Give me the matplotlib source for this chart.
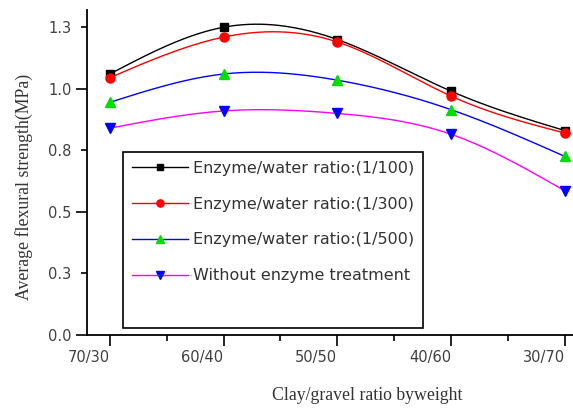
import numpy as np
import matplotlib
matplotlib.use('Agg')
import matplotlib.pyplot as plt
from matplotlib.lines import Line2D

categories = ['70/30', '60/40', '50/50', '40/60', '30/70']
ratio_1_100 = [1.06, 1.25, 1.20, 0.99, 0.83]
ratio_1_300 = [1.045, 1.21, 1.19, 0.97, 0.82]
ratio_1_500 = [0.945, 1.06, 1.035, 0.915, 0.725]
no_enzyme = [0.84, 0.91, 0.90, 0.815, 0.585]
series_labels = ['Enzyme/water ratio:(1/100)', 'Enzyme/water ratio:(1/300)',
                 'Enzyme/water ratio:(1/500)', 'Without enzyme treatment']
y_major = [0.0, 0.5, 1.0]
y_major_labels = ['0.0', '0.5', '1.0']
y_minor = [0.25, 0.75, 1.25]
y_minor_labels = ['0.3', '0.8', '1.3']

line_colors = ['black', 'red', 'blue', 'magenta']
marker_colors = ['black', 'red', '#00dd00', 'blue']
markers = ['s', 'o', '^', 'v']
msizes = [6, 6.5, 7, 7]


def natural_spline(x, y, n=300):
    x = np.asarray(x, float)
    y = np.asarray(y, float)
    k = len(x)
    h = np.diff(x)
    A = np.zeros((k, k))
    b = np.zeros(k)
    A[0, 0] = 1
    A[-1, -1] = 1
    for i in range(1, k - 1):
        A[i, i - 1] = h[i - 1]
        A[i, i] = 2 * (h[i - 1] + h[i])
        A[i, i + 1] = h[i]
        b[i] = 6 * ((y[i + 1] - y[i]) / h[i] - (y[i] - y[i - 1]) / h[i - 1])
    M = np.linalg.solve(A, b)
    xs = np.linspace(x[0], x[-1], n)
    idx = np.clip(np.searchsorted(x, xs) - 1, 0, k - 2)
    x0, x1 = x[idx], x[idx + 1]
    hh = x1 - x0
    t0 = x1 - xs
    t1 = xs - x0
    ys = (M[idx] * t0 ** 3 / (6 * hh) + M[idx + 1] * t1 ** 3 / (6 * hh)
          + (y[idx] / hh - M[idx] * hh / 6) * t0
          + (y[idx + 1] / hh - M[idx + 1] * hh / 6) * t1)
    return xs, ys


fig = plt.figure(figsize=(5.73, 4.11), dpi=100)
ax = fig.add_axes([87 / 573, 1 - 335 / 411, 486 / 573, 325 / 411])

xpos = np.arange(len(categories))
all_series = [ratio_1_100, ratio_1_300, ratio_1_500, no_enzyme]
handles = []
for vals, lc, mc, mk, ms, lab in zip(all_series, line_colors, marker_colors,
                                    markers, msizes, series_labels):
    xs, ys = natural_spline(xpos, vals)
    ax.plot(xs, ys, color=lc, lw=1.0, zorder=2)
    ax.plot(xpos, vals, linestyle='none', marker=mk, color=mc, ms=ms, zorder=3)
    handles.append(Line2D([], [], color=lc, lw=1.0, marker=mk,
                          markerfacecolor=mc, markeredgecolor=mc, ms=ms * 0.8))
handles.append(Line2D([], [], linestyle='none'))
labels = series_labels + [' ']

ax.set_xlim(-0.2, 4.07)
ax.set_ylim(0, 1.32)

for s in ['top', 'right']:
    ax.spines[s].set_visible(False)
for s in ['left', 'bottom']:
    ax.spines[s].set_linewidth(1.3)

ax.set_xticks(xpos)
ax.set_xticklabels(categories, ha='right')
ax.set_xticks([0.5, 1.5, 2.5, 3.5], minor=True)
ax.set_yticks(y_major)
ax.set_yticklabels(y_major_labels)
ax.set_yticks(y_minor, minor=True)
ax.set_yticklabels(y_minor_labels, minor=True)

ax.tick_params(which='major', length=8, width=1.2, direction='out',
               labelsize=10.5, labelcolor='#404040', pad=3)
ax.tick_params(which='minor', length=4.5, width=1.2, direction='out',
               labelsize=10.5, labelcolor='#404040', pad=6.5)

ax.set_ylabel('Average flexural strength(MPa)', family='Liberation Serif',
              fontsize=12.8, color='#333333')
ax.yaxis.set_label_coords(-0.111, 0.455)
ax.set_xlabel('Clay/gravel ratio byweight', family='Liberation Serif',
              fontsize=12.8, color='#333333')
ax.xaxis.set_label_coords(0.576, -0.16)

leg = ax.legend(handles, labels, loc='upper left', bbox_to_anchor=(0.074, 0.563),
                borderaxespad=0, fancybox=False, framealpha=1, edgecolor='black',
                fontsize=11.5, handlelength=3.5, handletextpad=0.35,
                labelspacing=1.3, borderpad=0.55, numpoints=1)
leg.get_frame().set_linewidth(1.2)
for t in leg.get_texts():
    t.set_color('#333333')

fig.savefig('out.png', dpi=100)
